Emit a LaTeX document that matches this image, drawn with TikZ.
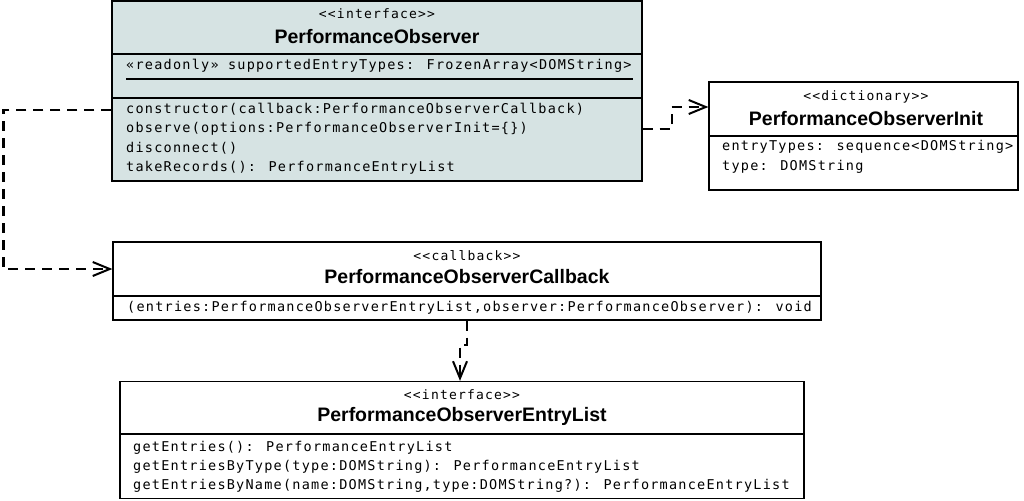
\documentclass[tikz,border=0pt]{standalone}
\usepackage{fontspec}
\setmainfont{Liberation Sans}
\newfontfamily\monof{DejaVu Sans Mono}[LetterSpace=9.2]
\usetikzlibrary{arrows.meta}
\definecolor{hdr}{HTML}{D6E3E3}
\tikzset{
  umlbox/.style={draw=black, line width=1.3pt, rectangle, inner sep=0pt},
  sepline/.style={draw=black, line width=1.3pt},
  stereo/.style={font=\monof\fontsize{13}{15}\selectfont, inner sep=0pt},
  title/.style={font=\bfseries\fontsize{19.5}{22}\selectfont, inner sep=0pt},
  member/.style={font=\monof\fontsize{13.5}{15}\selectfont, anchor=west, inner sep=0pt},
  dep/.style={draw=black, line width=2.3pt, dash pattern=on 10pt off 7pt,
    -{Straight Barb[length=17pt,width=14pt,line width=2pt]}},
}
\begin{document}
\begin{tikzpicture}[x=1pt,y=-1pt]
\useasboundingbox (0,0) rectangle (1024,500);
% ---- PerformanceObserver
\node[umlbox, fill=hdr, minimum width=530pt, minimum height=180pt] (po) at (377,91) {};
\node[stereo] (poS) at (377,14) {<<interface>>};
\node[title] (poT) at (377,37) {PerformanceObserver};
\draw[sepline] (po.west |- 0,54) -- (po.east |- 0,54);
\node[member] (poA) at (126,66) {«readonly» supportedEntryTypes: FrozenArray<DOMString>};
\draw[line width=1.1pt] (126,79) -- (633,79);
\draw[sepline] (po.west |- 0,98) -- (po.east |- 0,98);
\node[member] (poM1) at (126,109) {constructor(callback:PerformanceObserverCallback)};
\node[member] (poM2) at (126,129) {observe(options:PerformanceObserverInit=\{\})};
\node[member] (poM3) at (126,148) {disconnect()};
\node[member] (poM4) at (126,168) {takeRecords(): PerformanceEntryList};
% ---- PerformanceObserverInit
\node[umlbox, fill=white, minimum width=309pt, minimum height=108pt] (init) at (863.5,136) {};
\node[stereo] (initS) at (866,97) {<<dictionary>>};
\node[title] (initT) at (866,119) {PerformanceObserverInit};
\draw[sepline] (init.west |- 0,136) -- (init.east |- 0,136);
\node[member] (initA1) at (722,147) {entryTypes: sequence<DOMString>};
\node[member] (initA2) at (722,167) {type: DOMString};
% ---- PerformanceObserverCallback
\node[umlbox, fill=white, minimum width=708pt, minimum height=78pt] (cb) at (467,281) {};
\node[stereo] (cbS) at (467,256) {<<callback>>};
\node[title] (cbT) at (467,277) {PerformanceObserverCallback};
\draw[sepline] (cb.west |- 0,296) -- (cb.east |- 0,296);
\node[member] (cbM) at (127,308) {(entries:PerformanceObserverEntryList,observer:PerformanceObserver): void};
% ---- PerformanceObserverEntryList
\node[umlbox, fill=white, minimum width=684pt, minimum height=117pt] (el) at (462,440) {};
\node[stereo] (elS) at (462,395) {<<interface>>};
\node[title] (elT) at (462,416) {PerformanceObserverEntryList};
\draw[sepline] (el.west |- 0,434) -- (el.east |- 0,434);
\node[member] (elM1) at (133,448) {getEntries(): PerformanceEntryList};
\node[member] (elM2) at (133,467) {getEntriesByType(type:DOMString): PerformanceEntryList};
\node[member] (elM3) at (133,486) {getEntriesByName(name:DOMString,type:DOMString?): PerformanceEntryList};
% ---- connectors
\draw[dep] ([yshift=-19pt]po.west) -- ++(-108,0) |- ([yshift=12pt]cb.west);
\draw[dep] ([yshift=-38pt]po.east) -- ++(29,0) |- ([yshift=29pt]init.west);
\draw[dep] (cb.south) -- ++(0,24) -| ([xshift=-2pt]el.north);
\end{tikzpicture}
\end{document}
